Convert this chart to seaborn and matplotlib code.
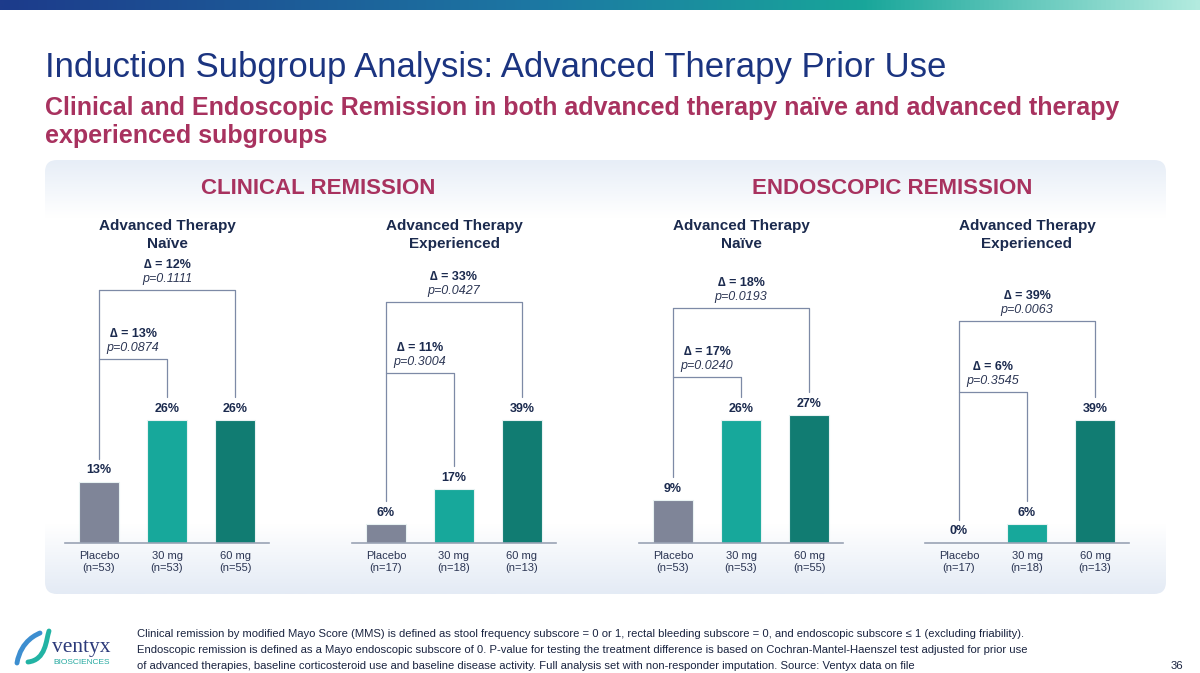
import numpy as np
import pandas as pd
import seaborn as sns
import matplotlib.pyplot as plt
from matplotlib.patches import FancyBboxPatch, PathPatch
from matplotlib.path import Path
from matplotlib.colors import LinearSegmentedColormap

# data
doses = ['Placebo', '30 mg', '60 mg']
panel_titles = ['Advanced Therapy\nNaïve', 'Advanced Therapy\nExperienced',
                'Advanced Therapy\nNaïve', 'Advanced Therapy\nExperienced']
n_naive = ['(n=53)', '(n=53)', '(n=55)']
n_exp = ['(n=17)', '(n=18)', '(n=13)']
clin_naive = [13, 26, 26]
clin_exp = [6, 17, 39]
endo_naive = [9, 26, 27]
endo_exp = [0, 6, 39]
delta_30 = ['13%', '11%', '17%', '6%']
p_30 = ['0.0874', '0.3004', '0.0240', '0.3545']
delta_60 = ['12%', '33%', '18%', '39%']
p_60 = ['0.1111', '0.0427', '0.0193', '0.0063']

panels = [clin_naive, clin_exp, endo_naive, endo_exp]
panel_n = [n_naive, n_exp, n_naive, n_exp]

# layout (pixels on a 1200x673 canvas)
W, H = 1200, 673
panel_left = [65, 352, 639, 925]
ax_w, ax_h, base_y = 204, 293, 543
y_top = [62, 93, 62, 93]
bracket_outer = [53.5, 76.5, 49.7, 70.5]
bracket_inner = [38.9, 54.0, 35.1, 47.9]

bar_colors = ['#7f8598', '#17a89b', '#117c72']
navy = '#1b2a4e'
magenta = '#a8325f'
line_col = '#7d8aa6'

sns.set_style('white')
plt.rcParams['font.family'] = ['Liberation Sans', 'DejaVu Sans']

fig = plt.figure(figsize=(12, 6.73), dpi=100)

# background layer in pixel coordinates
bg = fig.add_axes([0, 0, 1, 1])
bg.set_xlim(0, W)
bg.set_ylim(H, 0)
bg.axis('off')

top_cmap = LinearSegmentedColormap.from_list(
    'top', [(0, '#1d3b8b'), (0.45, '#1c78a3'), (0.72, '#18a69a'), (1, '#b3ebdf')])
bg.imshow(np.linspace(0, 1, 512).reshape(1, -1), cmap=top_cmap, aspect='auto',
          extent=(0, W, 10, 0))

box = FancyBboxPatch((45, 160), 1121, 434, boxstyle='round,pad=0,rounding_size=12',
                     facecolor='none', edgecolor='none')
bg.add_patch(box)
box_cmap = LinearSegmentedColormap.from_list(
    'box', [(0, '#e7eef7'), (0.13, '#ffffff'), (0.84, '#ffffff'), (1, '#e4ebf5')])
im = bg.imshow(np.linspace(0, 1, 256).reshape(-1, 1), cmap=box_cmap, aspect='auto',
               extent=(45, 1166, 594, 160))
im.set_clip_path(box)

bg.text(45, 68, 'Induction Subgroup Analysis: Advanced Therapy Prior Use',
        fontsize=25, color='#1b3480', va='center')
bg.text(45, 108, 'Clinical and Endoscopic Remission in both advanced therapy naïve and advanced therapy',
        fontsize=18, fontweight='bold', color=magenta, va='center')
bg.text(45, 136, 'experienced subgroups', fontsize=18, fontweight='bold', color=magenta, va='center')

bg.text(318, 188, 'CLINICAL REMISSION', fontsize=16, fontweight='bold', color=magenta,
        ha='center', va='center')
bg.text(892, 188, 'ENDOSCOPIC REMISSION', fontsize=16, fontweight='bold', color=magenta,
        ha='center', va='center')

foot = ['Clinical remission by modified Mayo Score (MMS) is defined as stool frequency subscore = 0 or 1, rectal bleeding subscore = 0, and endoscopic subscore \u2264 1 (excluding friability).',
        'Endoscopic remission is defined as a Mayo endoscopic subscore of 0. P-value for testing the treatment difference is based on Cochran-Mantel-Haenszel test adjusted for prior use',
        'of advanced therapies, baseline corticosteroid use and baseline disease activity. Full analysis set with non-responder imputation. Source: Ventyx data on file']
for i, line in enumerate(foot):
    bg.text(137, 634 + 16 * i, line, fontsize=8.1, color='#1a2440', va='center')
bg.text(1183, 666, '36', fontsize=8.1, color='#1a2440', va='center', ha='right')

# logo
s1 = Path([(17, 663), (21, 640), (38, 634), (40, 633)], [Path.MOVETO, Path.CURVE4, Path.CURVE4, Path.CURVE4])
s2 = Path([(28, 662), (46, 660), (46, 640), (49, 631)], [Path.MOVETO, Path.CURVE4, Path.CURVE4, Path.CURVE4])
bg.add_patch(PathPatch(s1, facecolor='none', edgecolor='#3d8ed0', lw=3.5, capstyle='round'))
bg.add_patch(PathPatch(s2, facecolor='none', edgecolor='#22b3a4', lw=3.5, capstyle='round'))
bg.text(52, 652, 'ventyx', family=['Liberation Serif', 'DejaVu Serif'], fontsize=15.5,
        color='#2c3a7a', va='baseline')
bg.text(53, 662, 'BIOSCIENCES', fontsize=6, color='#25a9a0', va='center')

for i, vals in enumerate(panels):
    ax = fig.add_axes([panel_left[i] / W, (H - base_y) / H, ax_w / W, ax_h / H])
    df = pd.DataFrame({'dose': doses, 'pct': vals})
    sns.barplot(data=df, x='dose', y='pct', hue='dose', palette=bar_colors, width=0.59,
                saturation=1, edgecolor='#e8f2f2', linewidth=0.8, legend=False, ax=ax)
    ax.set_xlim(-0.5, 2.5)
    ax.set_ylim(0, y_top[i])
    ax.patch.set_alpha(0)
    for sp in ['top', 'left', 'right']:
        ax.spines[sp].set_visible(False)
    ax.spines['bottom'].set_color('#9aa3b5')
    ax.spines['bottom'].set_linewidth(1.2)
    ax.set_yticks([])
    ax.set_xlabel('')
    ax.set_ylabel('')
    ax.set_xticks([0, 1, 2], [f'{d}\n{n}' for d, n in zip(doses, panel_n[i])])
    ax.tick_params(axis='x', length=0, pad=6, labelsize=8, labelcolor='#2b3553')
    for c, v in zip(ax.containers, vals):
        ax.bar_label(c, labels=[f'{v}%'], padding=4, fontsize=9, fontweight='bold', color=navy)

    # significance brackets
    gap = 23 * y_top[i] / ax_h
    top, mid = bracket_outer[i], bracket_inner[i]
    kw = dict(color=line_col, lw=0.9, clip_on=False)
    ax.plot([0, 0], [vals[0] + gap, top], **kw)
    ax.plot([0, 2, 2], [top, top, vals[2] + gap], **kw)
    ax.plot([0, 1, 1], [mid, mid, vals[1] + gap], **kw)
    for xm, yb, d, p in [(1, top, delta_60[i], p_60[i]), (0.5, mid, delta_30[i], p_30[i])]:
        ax.annotate(f'\u2206 = {d}', (xm, yb), xytext=(0, 18), textcoords='offset points',
                    ha='center', va='center', fontsize=9, fontweight='bold', color=navy,
                    annotation_clip=False)
        ax.annotate(f'p={p}', (xm, yb), xytext=(0, 8), textcoords='offset points',
                    ha='center', va='center', fontsize=9, fontstyle='italic', color='#2b3553',
                    annotation_clip=False)

    cx = panel_left[i] + ax_w / 2
    t1, t2 = panel_titles[i].split('\n')
    bg.text(cx, 226, t1, fontsize=11, fontweight='bold', color=navy, ha='center', va='center')
    bg.text(cx, 244, t2, fontsize=11, fontweight='bold', color=navy, ha='center', va='center')

fig.savefig('out.png', dpi=100)
